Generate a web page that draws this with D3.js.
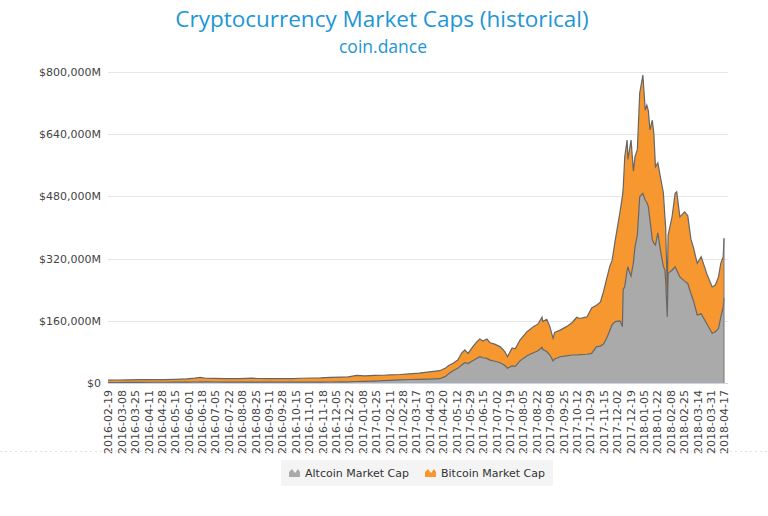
<!DOCTYPE html>
<html><head><meta charset="utf-8">
<script src="https://cdn.jsdelivr.net/npm/d3@7/dist/d3.min.js"></script>
<style>
html,body{margin:0;padding:0;background:#fff;}
svg{display:block;}
</style></head>
<body>
<svg id="chart" width="768" height="516"></svg>
<script>
// ---- Data (values in millions USD) ----
const tickLabels = ["2016-02-19","2016-03-08","2016-03-25","2016-04-11","2016-04-28","2016-05-15","2016-06-01","2016-06-18","2016-07-05","2016-07-22","2016-08-08","2016-08-25","2016-09-11","2016-09-28","2016-10-15","2016-11-01","2016-11-18","2016-12-05","2016-12-22","2017-01-08","2017-01-25","2017-02-11","2017-02-28","2017-03-17","2017-04-03","2017-04-20","2017-05-12","2017-05-29","2017-06-15","2017-07-02","2017-07-19","2017-08-05","2017-08-22","2017-09-08","2017-09-25","2017-10-12","2017-10-29","2017-11-15","2017-12-02","2017-12-19","2018-01-05","2018-01-22","2018-02-08","2018-02-25","2018-03-14","2018-03-31","2018-04-17"];
const tickStep = 17;
const yTicks = [0,160000,320000,480000,640000,800000];
const seriesNames = ["Altcoin Market Cap","Bitcoin Market Cap"];

// category index of each sample
const pointIndex = [0,12,25,40,55,70,85,100,110,117,124,135,150,165,175,182,190,205,220,235,245,258,270,282,295,305,316,326,338,350,358,370,383,395,408,421,428,432,438,444,449,453,457,463,468,472,476,481,485,491,498,504,507,513,517,523,532,540,546,551,552,557,561,565,567,574,582,589,595,599,608,614,620,625,629,633,637,640,644,650,653,654,656,659,660,662,664,667,669,672,675,679,682,684,686,688,691,693,695,698,702,705,707,708,710,711,716,720,722,726,732,736,740,743,748,753,760,767,771,775,778,781,782];
// total market cap (altcoin + bitcoin)
const totalCap = [7600,7700,7900,8700,8500,8800,9500,10800,12500,14600,12200,11800,11200,11300,11800,12300,11600,11400,11300,11500,12200,12800,13200,14600,15200,16000,19800,18200,19400,20000,20800,21800,23500,25500,28500,31600,37700,44500,51000,59000,77000,85000,76000,93000,106000,113000,108000,113000,103600,100000,93000,80000,67600,90000,88000,110600,132000,145000,152000,169000,158000,164000,145000,115000,130000,136000,145000,155000,169000,166000,170000,193000,200000,208000,235000,268000,300000,316000,368000,440000,480000,500000,582000,625000,575000,600000,625000,545000,582000,600000,746000,792000,702000,715000,700000,651000,676000,640000,556000,566000,522000,490000,427000,400000,231000,380000,427000,488000,492000,427000,440000,430000,370000,350000,308000,325000,282000,247000,252000,273000,308000,325000,372000];
const altcoinCap = [1200,1300,1400,1800,1900,1900,2000,2300,2600,2900,2700,2600,2300,2100,2300,2400,2200,2100,2000,2000,2100,2200,2300,2600,2800,3100,3800,4200,5000,6200,7000,8000,9000,9500,10000,11000,16300,23000,31600,37700,46300,52300,50000,57400,63000,67600,65000,63400,59000,56000,52000,45000,38000,44000,43000,57000,70000,78000,83000,92000,86000,81000,72000,57000,62000,67600,70000,72000,72000,73000,74000,76000,93000,95000,100000,115000,135000,150000,158000,160000,145000,240000,248000,290000,299000,285000,275000,310000,350000,380000,479000,488000,470000,465000,453000,420000,368000,360000,355000,386000,333000,300000,290000,260000,170000,282000,290000,299000,290000,273000,262000,256000,230000,213000,175000,178000,153000,128000,132000,140000,170000,195000,218000];
const bitcoinCap = totalCap.map((t,i)=>t-altcoinCap[i]);

const data = pointIndex.map((idx,i)=>({idx, alt: altcoinCap[i], btc: bitcoinCap[i]}));

// ---- Chart ----
const svg = d3.select("#chart");
const x = d3.scaleLinear().domain([0, (tickLabels.length-1)*tickStep]).range([108, 724]);
const y = d3.scaleLinear().domain([0, 800000]).range([383, 72]);

const FONT = "'DejaVu Sans', Verdana, sans-serif";

// title
svg.append("text").attr("x", 382).attr("y", 26.5).attr("text-anchor","middle")
  .attr("font-family","'Open Sans', sans-serif").attr("font-size", 22.5).attr("fill","#2196d6")
  .text("Cryptocurrency Market Caps (historical)");
svg.append("text").attr("x", 383).attr("y", 53).attr("text-anchor","middle")
  .attr("font-family","'Open Sans', sans-serif").attr("font-size", 17.5).attr("fill","#2196d6")
  .text("coin.dance");

// gridlines
svg.append("g").selectAll("line").data(yTicks).join("line")
  .attr("x1", 108).attr("x2", 728)
  .attr("y1", d=>Math.round(y(d))+0.5).attr("y2", d=>Math.round(y(d))+0.5)
  .attr("stroke", "#e6e6e6").attr("stroke-width",1);

// y axis labels
const yAxis = d3.axisLeft(y).tickValues(yTicks).tickSize(0).tickPadding(0)
  .tickFormat(d => d===0 ? "$0" : "$" + d3.format(",")(d) + "M");
const gy = svg.append("g").attr("transform","translate(101,0)").call(yAxis);
gy.select(".domain").remove();
gy.selectAll("text").attr("font-family", FONT).attr("font-size", 11).attr("fill","#444");

// stacked areas
const areaAlt = d3.area().x(d=>x(d.idx)).y0(y(0)).y1(d=>y(d.alt));
const areaBtc = d3.area().x(d=>x(d.idx)).y0(d=>y(d.alt)).y1(d=>y(d.alt+d.btc));
const lineAlt = d3.line().x(d=>x(d.idx)).y(d=>y(d.alt));
const lineTot = d3.line().x(d=>x(d.idx)).y(d=>y(d.alt+d.btc));

svg.append("path").datum(data).attr("d", areaBtc).attr("fill","#f7972f");
svg.append("path").datum(data).attr("d", areaAlt).attr("fill","#aaaaaa");
svg.append("path").datum(data).attr("d", lineTot).attr("fill","none").attr("stroke","#666").attr("stroke-width",1.2);
svg.append("path").datum(data).attr("d", lineAlt).attr("fill","none").attr("stroke","#666").attr("stroke-width",1.2);
// right edge
const last = data[data.length-1];
svg.append("line").attr("x1", x(last.idx)).attr("x2", x(last.idx))
  .attr("y1", y(0)).attr("y2", y(last.alt+last.btc)).attr("stroke","#777").attr("stroke-width",1);

// x axis line
svg.append("line").attr("x1",108).attr("x2",728).attr("y1",383.5).attr("y2",383.5)
  .attr("stroke","#ccd6eb").attr("stroke-width",1);

// x tick labels
const xAxis = d3.axisBottom(x).tickValues(tickLabels.map((_,i)=>i*tickStep)).tickSize(0)
  .tickFormat((d,i)=>tickLabels[i]);
const gx = svg.append("g").attr("transform","translate(0,390)").call(xAxis);
gx.select(".domain").remove();
gx.selectAll("text").attr("font-family", FONT).attr("font-size", 11).attr("fill","#444")
  .attr("text-anchor","end").attr("transform","rotate(-90)").attr("x",0).attr("y",0).attr("dy","0.35em");

// legend
svg.append("line").attr("x1",0).attr("x2",768).attr("y1",451.5).attr("y2",451.5)
  .attr("stroke","#e2e2e2").attr("stroke-dasharray","2,3");
svg.append("rect").attr("x",281).attr("y",460).attr("width",272).attr("height",26).attr("fill","#f4f4f4");
const legend = svg.append("g");
const colors = ["#aaaaaa","#f7972f"];
const lx = [289, 425];
seriesNames.forEach((name,i)=>{
  const g = legend.append("g").attr("transform",`translate(${lx[i]},473)`);
  g.append("path").attr("d","M0,4 L0,-1 L3,-4 L6,0 L9,-4 L11,-1 L11,4 Z").attr("fill",colors[i]);
  g.append("text").attr("x",16).attr("y",0).attr("dy","0.35em")
    .attr("font-family",FONT).attr("font-size",11).attr("fill","#333").text(name);
});
</script>
</body></html>
